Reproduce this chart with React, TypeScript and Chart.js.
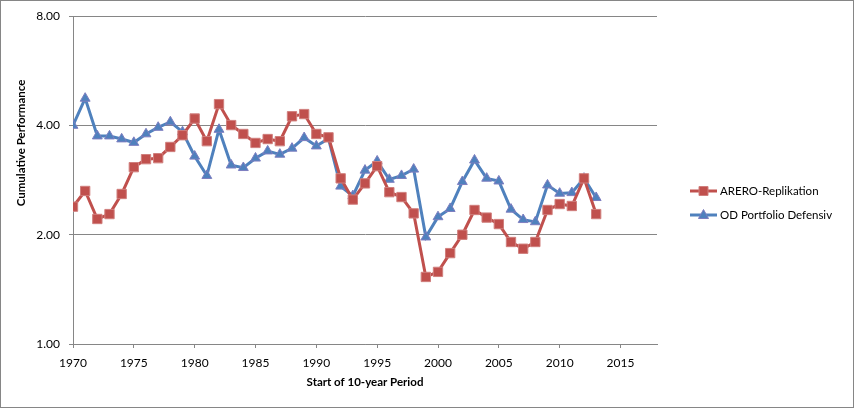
import React, { useEffect, useRef } from "react";
import { Chart, registerables } from "chart.js";

Chart.register(...registerables);

const years = [
  1970, 1971, 1972, 1973, 1974, 1975, 1976, 1977, 1978, 1979,
  1980, 1981, 1982, 1983, 1984, 1985, 1986, 1987, 1988, 1989,
  1990, 1991, 1992, 1993, 1994, 1995, 1996, 1997, 1998, 1999,
  2000, 2001, 2002, 2003, 2004, 2005, 2006, 2007, 2008, 2009,
  2010, 2011, 2012, 2013,
];

const areroValues = [
  2.39, 2.64, 2.21, 2.28, 2.59, 3.07, 3.23, 3.25, 3.49, 3.76,
  4.18, 3.62, 4.58, 4.01, 3.79, 3.58, 3.67, 3.62, 4.24, 4.3,
  3.79, 3.71, 2.86, 2.5, 2.77, 3.09, 2.62, 2.54, 2.29, 1.53,
  1.58, 1.78, 2.0, 2.34, 2.23, 2.14, 1.91, 1.83, 1.91, 2.34,
  2.43, 2.4, 2.86, 2.28,
];

const odValues = [
  4.0, 4.75, 3.74, 3.74, 3.67, 3.59, 3.79, 3.95, 4.09, 3.84,
  3.29, 2.91, 3.9, 3.11, 3.06, 3.25, 3.4, 3.33, 3.46, 3.7,
  3.51, 3.68, 2.72, 2.56, 3.01, 3.19, 2.84, 2.91, 3.03, 1.97,
  2.24, 2.36, 2.8, 3.21, 2.86, 2.81, 2.35, 2.2, 2.17, 2.74,
  2.6, 2.61, 2.86, 2.53,
];

const yTickValues = [1, 2, 4, 8];
const seriesLabels = ["ARERO-Replikation", "OD Portfolio Defensiv"];
const xAxisTitle = "Start of 10-year Period";
const yAxisTitle = "Cumulative Performance";

const RED = "#C0504D";
const BLUE = "#4F81BD";
const GRID = "#868686";
const FONT = "Lato";

const decorPlugin = {
  id: "decor",
  beforeDraw(chart: any) {
    const { ctx, width, height } = chart;
    ctx.save();
    ctx.fillStyle = "#ffffff";
    ctx.fillRect(0, 0, width, height);
    ctx.restore();
  },
  afterDraw(chart: any) {
    const { ctx, width, height, chartArea } = chart;
    ctx.save();
    // outer border
    ctx.strokeStyle = GRID;
    ctx.lineWidth = 1;
    ctx.strokeRect(0.5, 0.5, width - 1, height - 1);

    // y-axis title
    ctx.fillStyle = "#000000";
    ctx.font = `bold 11.5px ${FONT}`;
    ctx.textAlign = "center";
    ctx.textBaseline = "middle";
    ctx.translate(21.5, 143);
    ctx.rotate(-Math.PI / 2);
    ctx.fillText(yAxisTitle, 0, 0);
    ctx.restore();

    // legend
    const x0 = chartArea.right + 33;
    const rowY = [191, 215];
    chart.data.datasets.forEach((ds: any, i: number) => {
      const y = rowY[i];
      ctx.save();
      ctx.strokeStyle = ds.borderColor;
      ctx.lineWidth = 3;
      ctx.beginPath();
      ctx.moveTo(x0, y);
      ctx.lineTo(x0 + 27, y);
      ctx.stroke();
      const cx = x0 + 13.5;
      ctx.fillStyle = ds.pointBackgroundColor;
      ctx.strokeStyle = ds.pointBorderColor;
      ctx.lineWidth = 1;
      if (ds.pointStyle === "rect") {
        ctx.beginPath();
        ctx.rect(cx - 4.5, y - 4.5, 9, 9);
        ctx.fill();
        ctx.stroke();
      } else {
        ctx.beginPath();
        ctx.moveTo(cx, y - 5.5);
        ctx.lineTo(cx + 5, y + 3.5);
        ctx.lineTo(cx - 5, y + 3.5);
        ctx.closePath();
        ctx.fill();
        ctx.stroke();
      }
      ctx.fillStyle = "#000000";
      ctx.font = `11.5px ${FONT}`;
      ctx.textAlign = "left";
      ctx.textBaseline = "middle";
      ctx.fillText(ds.label, x0 + 30, y);
      ctx.restore();
    });
  },
};

export default function App() {
  const canvasRef = useRef<HTMLCanvasElement | null>(null);

  useEffect(() => {
    document.body.style.margin = "0";
    const canvas = canvasRef.current;
    if (!canvas) return;

    const toPoints = (vals: number[]) => years.map((yr, i) => ({ x: yr, y: vals[i] }));

    const chart = new Chart(canvas, {
      type: "line",
      data: {
        datasets: [
          {
            label: seriesLabels[0],
            data: toPoints(areroValues),
            borderColor: RED,
            backgroundColor: RED,
            borderWidth: 3,
            pointStyle: "rect",
            pointRadius: 6.6,
            pointBackgroundColor: RED,
            pointBorderColor: "#D07F7D",
            pointBorderWidth: 1,
            tension: 0,
          },
          {
            label: seriesLabels[1],
            data: toPoints(odValues),
            borderColor: BLUE,
            backgroundColor: BLUE,
            borderWidth: 3,
            pointStyle: "triangle",
            pointRadius: 5.7,
            pointBackgroundColor: BLUE,
            pointBorderColor: "#7E7EC0",
            pointBorderWidth: 1,
            tension: 0,
          },
        ] as any,
      },
      options: {
        responsive: false,
        animation: false,
        devicePixelRatio: 1,
        layout: { padding: { left: 0, right: 197, top: 9, bottom: 19 } },
        plugins: {
          legend: { display: false },
          tooltip: { enabled: false },
        },
        scales: {
          x: {
            type: "linear",
            min: 1970,
            max: 2018,
            afterFit: (scale: any) => {
              scale.height = 45;
            },
            ticks: {
              stepSize: 5,
              includeBounds: false,
              padding: 8,
              color: "#000000",
              font: { family: FONT, size: 12 },
              callback: (v: any) => String(v),
              maxRotation: 0,
            },
            grid: {
              drawOnChartArea: false,
              drawTicks: true,
              tickLength: 4,
              color: GRID,
            },
            border: { color: GRID },
            title: {
              display: true,
              text: xAxisTitle,
              color: "#000000",
              font: { family: FONT, size: 11.5, weight: "bold" },
              padding: { top: 0, bottom: 0 },
            },
          },
          y: {
            type: "logarithmic",
            min: 1,
            max: 8,
            afterFit: (scale: any) => {
              scale.width = 73;
            },
            afterBuildTicks: (scale: any) => {
              scale.ticks = yTickValues.map((v) => ({ value: v }));
            },
            ticks: {
              padding: 9,
              color: "#000000",
              font: { family: FONT, size: 12 },
              callback: (v: any) => Number(v).toFixed(2),
            },
            grid: {
              color: GRID,
              drawTicks: true,
              tickLength: 4,
            },
            border: { color: GRID },
          },
        },
      } as any,
      plugins: [decorPlugin],
    });

    return () => chart.destroy();
  }, []);

  return (
    <div style={{ width: 854, height: 408, position: "relative" }}>
      <canvas ref={canvasRef} width={854} height={408} style={{ width: 854, height: 408, display: "block" }} />
    </div>
  );
}
